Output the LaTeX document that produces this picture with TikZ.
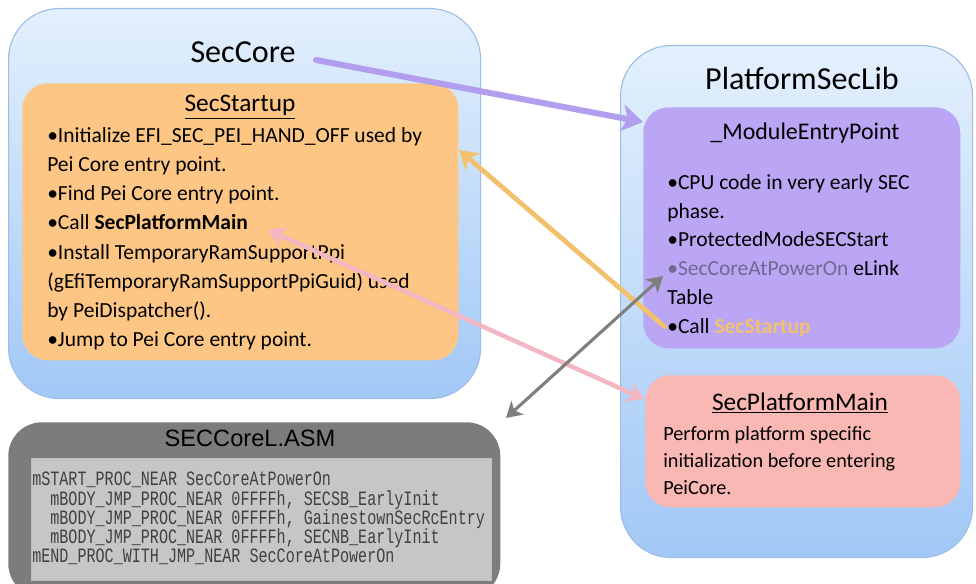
\documentclass[tikz,border=0pt]{standalone}
\usepackage{fontspec}
\setmainfont{Carlito}
\newfontfamily\asmfont[FakeStretch=0.74]{Liberation Mono}
\newfontfamily\headfont{Liberation Sans}
\usetikzlibrary{arrows.meta,positioning}
\definecolor{blueTop}{HTML}{E3F0FD}
\definecolor{blueBot}{HTML}{A2C8F6}
\definecolor{blueEdge}{HTML}{9CBDE6}
\definecolor{startupFill}{HTML}{FDC685}
\definecolor{entryFill}{HTML}{BAA6F5}
\definecolor{mainFill}{HTML}{F9B8B3}
\definecolor{asmDark}{HTML}{7C7C7C}
\definecolor{asmLight}{HTML}{C6C6C6}
\definecolor{arrPurple}{HTML}{B29EEF}
\definecolor{arrOrange}{HTML}{F2C16E}
\definecolor{arrPink}{HTML}{F2B7C3}
\definecolor{arrGray}{HTML}{7F7F7F}
\definecolor{dimText}{HTML}{6E6A8E}
\def\pxu{0.025cm}

\begin{document}
\begin{tikzpicture}[x=0.025cm,y=-0.025cm,
        %Option for arrows%
        >=Stealth,%
        inner sep=0pt,%
        module box/.style={draw=blueEdge, line width=0.8pt, top color=blueTop,
            bottom color=blueBot, rounded corners=36pt, anchor=north west},
        func box/.style={rounded corners=18pt, anchor=north west},
        module title/.style={font=\fontsize{22.8}{26}\selectfont},
        func title/.style={font=\fontsize{18}{22}\selectfont},
        body/.style={font=\fontsize{15.3}{20.8}\selectfont, align=left,
            anchor=north west, text=black},
        asm line/.style={anchor=base west, text=black!75,
            font=\asmfont\fontsize{14.5}{13.5}\selectfont},
        link/.style={line width=#1, line cap=round}
    ]
    \useasboundingbox (0,0) rectangle (976,584);
    %% SecCore module
    \node[module box, minimum width=472*\pxu, minimum height=390*\pxu] (seccore) at (8,8) {};
    \node[module title] (seccoretitle) at (243,52) {SecCore};
    \node[func box, fill=startupFill, minimum width=436*\pxu, minimum height=277*\pxu]
        (startup) at (22,83) {};
    \node[func title] (startuptitle) at (240,107) {\underline{SecStartup}};
    \node[body] (startupbody) at (47,127)
        {•Initialize EFI\_SEC\_PEI\_HAND\_OFF used by\\
         Pei Core entry point.\\
         •Find Pei Core entry point.\\
         •Call \textbf{SecPlatformMain}\\
         •Install TemporaryRamSupportPpi\\
         (gEfiTemporaryRamSupportPpiGuid) used\\
         by PeiDispatcher().\\
         •Jump to Pei Core entry point.};
    %% PlatformSecLib module
    \node[module box, minimum width=352*\pxu, minimum height=512*\pxu] (platsec) at (620,45) {};
    \node[module title] (platsectitle) at (802,78) {PlatformSecLib};
    \node[func box, fill=entryFill, minimum width=317*\pxu, minimum height=241*\pxu]
        (entry) at (643,107) {};
    \node[func title, font=\fontsize{17}{21}\selectfont] (entrytitle) at (805,133) {\_ModuleEntryPoint};
    \node[body, font=\fontsize{15.3}{20.5}\selectfont] (entrybody) at (667,174)
        {•CPU code in very early SEC\\
         phase.\\
         •ProtectedModeSECStart\\
         \textcolor{dimText}{•SecCoreAtPowerOn} eLink\\
         Table\\
         •Call \textcolor{arrOrange}{\textbf{SecStartup}}};
    \node[func box, fill=mainFill, minimum width=315*\pxu, minimum height=132*\pxu]
        (platmain) at (645,375) {};
    \node[func title] (platmaintitle) at (800,403) {\underline{SecPlatformMain}};
    \node[body, font=\fontsize{14.4}{19.2}\selectfont] (platmainbody) at (663,426)
        {Perform platform specific\\
         initialization before entering\\
         PeiCore.};
    %% SECCoreL.ASM file
    \node[func box, fill=asmDark, rounded corners=24pt, minimum width=492*\pxu,
        minimum height=175*\pxu] (asmfile) at (8,422) {};
    \node[font=\headfont\fontsize{16.8}{20}\selectfont] (asmtitle) at (250,438) {SECCoreL.ASM};
    \node[anchor=north west, fill=asmLight, draw=black!25, minimum width=460*\pxu,
        minimum height=122*\pxu] (asmcode) at (31,458) {};
    \node[asm line] (asm1) at (32,486) {mSTART\_PROC\_NEAR SecCoreAtPowerOn};
    \node[asm line] (asm2) at (32,505) {\phantom{xx}mBODY\_JMP\_PROC\_NEAR 0FFFFh, SECSB\_EarlyInit};
    \node[asm line] (asm3) at (32,524) {\phantom{xx}mBODY\_JMP\_PROC\_NEAR 0FFFFh, GainestownSecRcEntry};
    \node[asm line] (asm4) at (32,543) {\phantom{xx}mBODY\_JMP\_PROC\_NEAR 0FFFFh, SECNB\_EarlyInit};
    \node[asm line] (asm5) at (32,562) {mEND\_PROC\_WITH\_JMP\_NEAR SecCoreAtPowerOn};
    %% links
    \coordinate (coreOut)   at (316,60);
    \coordinate (entryIn)   at (643,122);
    \coordinate (callStart) at (665,327);
    \coordinate (startupIn) at (459,150);
    \coordinate (callMain)  at (268,230);
    \coordinate (mainIn)    at (644,399);
    \coordinate (asmEnd)    at (506,418);
    \coordinate (powerOn)   at (663,276);
    \draw[link=4.3pt, arrPurple, -{Stealth[length=15pt, width=19pt, inset=4pt]}] (coreOut) -- (entryIn);
    \draw[link=3.4pt, arrOrange, -{Stealth[length=13pt, width=16pt, inset=4pt]}] (callStart) -- (startupIn);
    \draw[link=3.2pt, arrPink, {Stealth[length=12pt, width=15pt, inset=4pt]}-{Stealth[length=12pt, width=15pt, inset=4pt]}]
        (callMain) -- (mainIn);
    \draw[link=2.2pt, arrGray, {Stealth[length=11pt, width=13pt, inset=3pt]}-{Stealth[length=11pt, width=13pt, inset=3pt]}]
        (asmEnd) -- (powerOn);
\end{tikzpicture}
\end{document}
